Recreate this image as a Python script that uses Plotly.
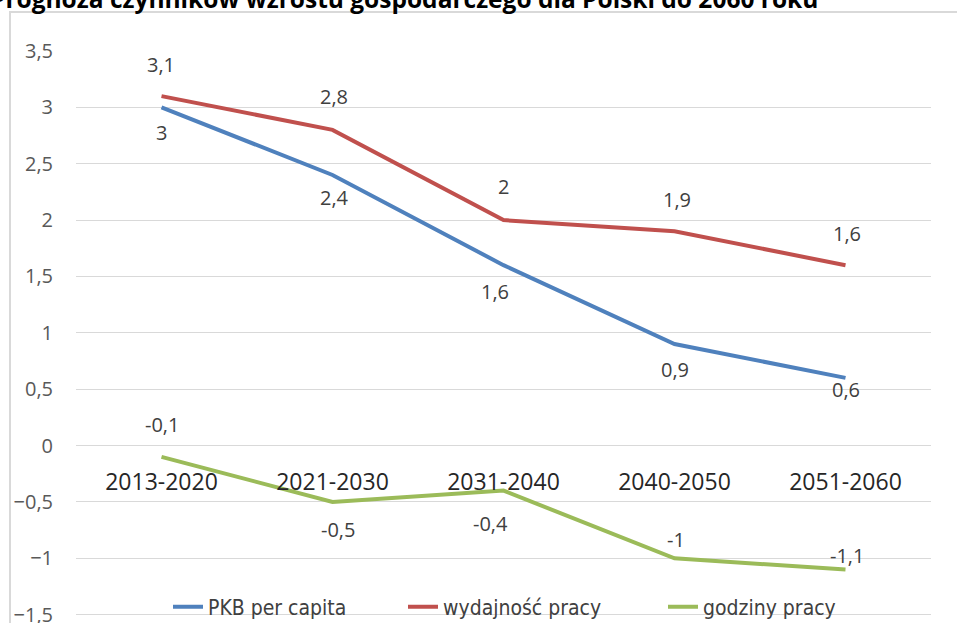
import plotly.graph_objects as go

# Data
periods = ["2013-2020", "2021-2030", "2031-2040", "2040-2050", "2051-2060"]
pkb_per_capita = [3.0, 2.4, 1.6, 0.9, 0.6]
wydajnosc_pracy = [3.1, 2.8, 2.0, 1.9, 1.6]
godziny_pracy = [-0.1, -0.5, -0.4, -1.0, -1.1]

title = "Prognoza czynników wzrostu gospodarczego dla Polski do 2060 roku"

# label offsets in px (dx, dy) - dy positive = up
pkb_shift = [(0, -25), (2, -22), (-9, -26), (0, -25), (0, -12)]
wyd_shift = [(-1, 32), (1, 33), (0, 34), (2, 32), (1, 32)]
godz_shift = [(0, 32), (5, -28), (-13, -33), (1, 19), (1, 14)]

# legend left edges in px (one legend per series)
legend_left = [168, 403, 663]

series = [
    ("PKB per capita", pkb_per_capita, "#4F81BD", pkb_shift),
    ("wydajność pracy", wydajnosc_pracy, "#C0504D", wyd_shift),
    ("godziny pracy", godziny_pracy, "#9BBB59", godz_shift),
]

# plot area: 76..931 px wide, 51..618 px high
W, H = 957, 623
L, R, T, B = 76, 26, 51, 5
pw, ph = W - L - R, H - T - B

def px(x):
    return (x - L) / pw

def py(y):
    return (H - B - y) / ph

fig = go.Figure()
annotations = []
legend_font = dict(family="Liberation Sans Narrow, DejaVu Sans Condensed, sans-serif",
                   size=21, color="#404040")
legend_names = ["legend", "legend2", "legend3"]
for i, (name, vals, color, shifts) in enumerate(series):
    fig.add_trace(go.Scatter(x=periods, y=vals, mode="lines", name=name,
                             line=dict(color=color, width=4), legend=legend_names[i]))
    for p, v, (dx, dy) in zip(periods, vals, shifts):
        annotations.append(dict(x=p, y=v, xref="x", yref="y",
                                text=f"{v:g}".replace(".", ","), showarrow=False,
                                xshift=dx, yshift=dy,
                                font=dict(family="Open Sans", size=20, color="#404040")))

# cut-off title at the top edge
annotations.append(dict(x=px(820), y=py(17), xref="paper", yref="paper",
                        xanchor="right", yanchor="bottom", text=f"<b>{title}</b>",
                        showarrow=False,
                        font=dict(family="Open Sans", size=24.5, color="#000000")))

# chart area border (left and top visible)
fig.add_shape(type="rect", xref="paper", yref="paper",
              x0=px(10), x1=1.2, y0=-0.2, y1=py(12),
              line=dict(color="#D9D9D9", width=2), layer="below")

legend_cfg = {}
for name, left in zip(legend_names, legend_left):
    legend_cfg[name] = dict(orientation="h", x=px(left), xanchor="left",
                            y=py(607), yanchor="middle",
                            bgcolor="rgba(0,0,0,0)", font=legend_font)

fig.update_layout(
    width=W, height=H,
    margin=dict(l=L, r=R, t=T, b=B, autoexpand=False),
    paper_bgcolor="white", plot_bgcolor="white",
    separators=", ",
    showlegend=True,
    annotations=annotations,
    **legend_cfg,
)
fig.update_xaxes(range=[-0.5, 4.5], anchor="free", position=1.53 / 5.03, showline=False,
                 showgrid=False, ticks="", ticklabelstandoff=20, automargin=False,
                 tickfont=dict(family="Open Sans", size=23, color="#262626"))
fig.update_yaxes(range=[-1.53, 3.5], dtick=0.5, tick0=0, showgrid=True,
                 gridcolor="#D9D9D9", gridwidth=1, zeroline=False, showline=False,
                 ticklabelstandoff=22, automargin=False, ticklabeloverflow="allow",
                 tickfont=dict(family="Open Sans", size=20, color="#595959"))

# remove default page margin so the figure sits at the window's corner
fig.write_html("out.html", config={"displayModeBar": False},
               post_script="document.body.style.margin='0';")
